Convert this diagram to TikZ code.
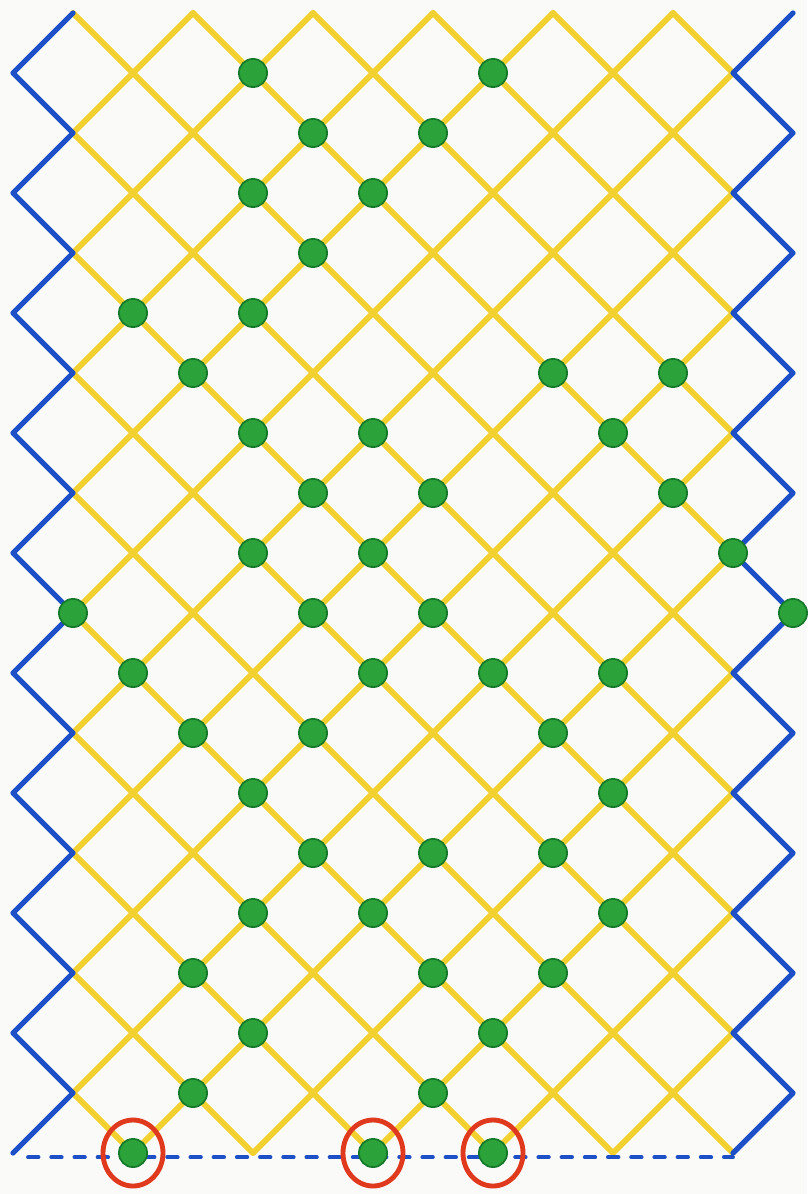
\documentclass[tikz,border=0pt]{standalone}
\usetikzlibrary{shapes.geometric}
\definecolor{paper}{HTML}{FAFAF8}
\definecolor{threadyellow}{HTML}{F2D030}
\definecolor{edgeblue}{HTML}{1D4FC6}
\definecolor{beadgreen}{HTML}{2BA23A}
\definecolor{beadrim}{HTML}{15782A}
\definecolor{ringred}{HTML}{E03A1E}

\begin{document}
\begin{tikzpicture}[y=-1cm,line cap=round,line join=round,
thread/.style={threadyellow,line width=2.8pt},
selvage/.style={edgeblue,line width=2.5pt},
hem/.style={edgeblue,line width=1.8pt,dash pattern=on 5pt off 6pt},
bead/.style={circle,fill=beadgreen,draw=beadrim,line width=0.8pt,inner sep=0pt,minimum size=0.47cm},
ring/.style={ellipse,draw=ringred,line width=2.3pt,inner sep=0pt,minimum width=1cm,minimum height=1.1cm}]
\fill[paper] (-0.2167,-0.2167) rectangle (13.2333,19.6833);
\useasboundingbox (-0.2167,-0.2167) rectangle (13.2333,19.6833);

\foreach \i in {1,...,12}
 \foreach \j in {0,...,18} {
  \ifodd\numexpr\i+\j\relax
   \ifnum\i<12 \draw[thread] (\i,\j) -- (\i+1,\j+1); \fi
   \ifnum\i>1 \draw[thread] (\i,\j) -- (\i-1,\j+1); \fi
  \fi
 }

\draw[selvage] (1,0) \foreach \k in {1,...,19} { -- ({mod(\k+1,2)},\k) };
\draw[selvage] (13,0) \foreach \k in {1,...,19} { -- ({12+mod(\k+1,2)},\k) };

\coordinate (hem-l) at (0.25,19.07);
\coordinate (hem-r) at (12,19.07);
\draw[hem] (hem-l) -- (hem-r);

\foreach \i/\j in {4/1,8/1,5/2,7/2,4/3,6/3,5/4,2/5,4/5,3/6,9/6,11/6,4/7,6/7,10/7,
 5/8,7/8,11/8,4/9,6/9,12/9,1/10,5/10,7/10,13/10,2/11,6/11,8/11,10/11,3/12,5/12,9/12,
 4/13,10/13,5/14,7/14,9/14,4/15,6/15,10/15,3/16,7/16,9/16,4/17,8/17,3/18,7/18,
 2/19,6/19,8/19}
 \node[bead] (b-\i-\j) at (\i,\j) {};

\foreach \i in {2,6,8}
 \node[ring] (r-\i) at (b-\i-19) {};
\end{tikzpicture}
\end{document}
